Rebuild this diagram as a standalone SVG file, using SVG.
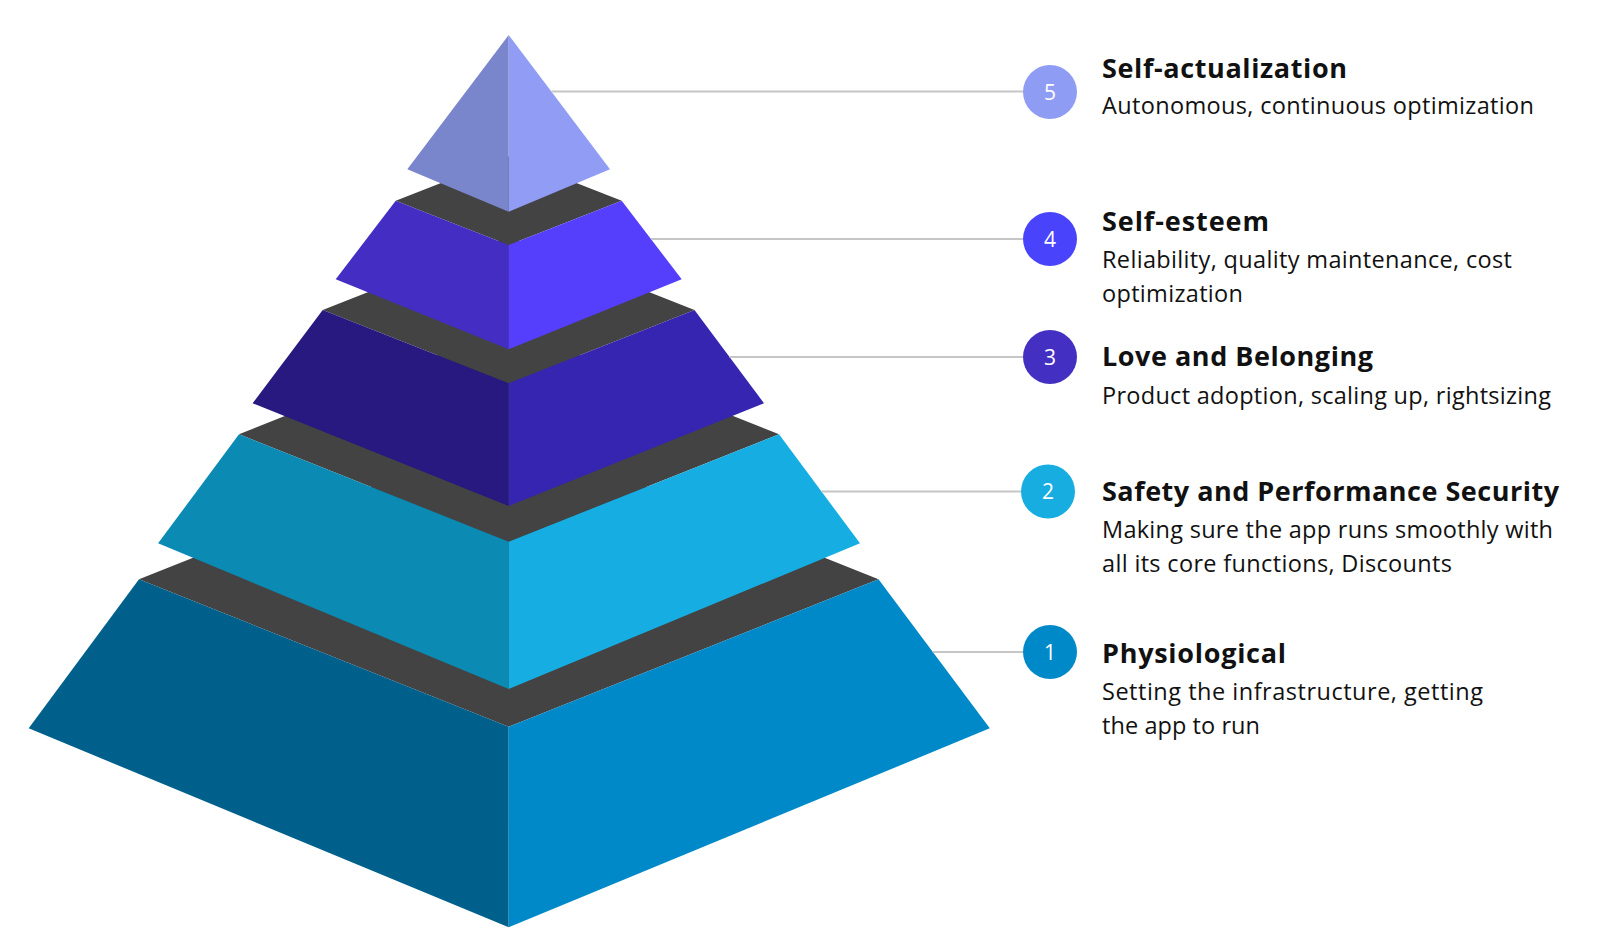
<svg xmlns="http://www.w3.org/2000/svg" width="1600" height="948" viewBox="0 0 1600 948">
<style>
.top{fill:#434343}
.conn{stroke:#c6c6c6;stroke-width:1.8;fill:none}
.num{font-family:"Open Sans","Liberation Sans",sans-serif;font-size:21px;fill:#ffffff;text-anchor:middle}
.title{font-family:"Open Sans","Liberation Sans",sans-serif;font-size:27px;font-weight:700;fill:#111111}
.sub{font-family:"Open Sans","Liberation Sans",sans-serif;font-size:23.5px;fill:#111111}
</style>
<rect width="1600" height="948" fill="#ffffff"/>
<g id="tier1">
<polygon class="top" points="139,579.3 508.7,431.9 878.5,579.3 508.7,726.7"/>
<polygon fill="#00608c" points="139,579.3 508.7,726.7 508.7,927.3 28.7,728.3"/>
<polygon fill="#0089c9" points="508.7,726.7 878.5,579.3 989.8,728.3 508.7,927.3"/>
</g>
<g id="tier2">
<polygon class="top" points="239,434.3 508.7,326.9 779,434.3 508.7,541.7"/>
<polygon fill="#0b8ab4" points="239,434.3 508.7,541.7 508.7,689 158.1,543.3"/>
<polygon fill="#16aee2" points="508.7,541.7 779,434.3 860,543.3 508.7,689"/>
</g>
<g id="tier3">
<polygon class="top" points="322.7,310 508.7,236.7 694.5,310 508.7,383.3"/>
<polygon fill="#27197f" points="322.7,310 508.7,383.3 508.7,506 252.6,403.3"/>
<polygon fill="#3625b0" points="508.7,383.3 694.5,310 764,403.3 508.7,506"/>
</g>
<g id="tier4">
<polygon class="top" points="395.7,200.7 508.7,156.4 621.7,200.7 508.7,245"/>
<polygon fill="#432dc3" points="395.7,200.7 508.7,245 508.7,349.3 335.7,279.3"/>
<polygon fill="#563ffc" points="508.7,245 621.7,200.7 681.7,279.3 508.7,349.3"/>
</g>
<g id="tier5">
<polygon fill="#7a86cc" points="508.7,35 407.3,169.3 508.7,211.7"/>
<polygon fill="#919df5" points="508.7,35 508.7,211.7 610,169.3"/>
</g>
<g id="connectors">
<line class="conn" x1="551.3" y1="91.5" x2="1023" y2="91.5"/>
<line class="conn" x1="650.9" y1="239" x2="1023" y2="239"/>
<line class="conn" x1="729.5" y1="357" x2="1023" y2="357"/>
<line class="conn" x1="821.5" y1="491.5" x2="1021" y2="491.5"/>
<line class="conn" x1="932.8" y1="652" x2="1023" y2="652"/>
</g>
<g id="level5">
<circle cx="1050" cy="92" r="27" fill="#8f9cf4"/>
<text class="num" x="1050" y="99.5">5</text>
<text class="title" x="1102" y="77.5" textLength="245" lengthAdjust="spacing">Self-actualization</text>
<text class="sub" x="1102" y="114" textLength="432" lengthAdjust="spacing">Autonomous, continuous optimization</text>
</g>
<g id="level4">
<circle cx="1050" cy="239" r="27" fill="#4944fc"/>
<text class="num" x="1050" y="246.5">4</text>
<text class="title" x="1102" y="230.5" textLength="167" lengthAdjust="spacing">Self-esteem</text>
<text class="sub" x="1102" y="268" textLength="410" lengthAdjust="spacing">Reliability, quality maintenance, cost</text>
<text class="sub" x="1102" y="301.5" textLength="141" lengthAdjust="spacing">optimization</text>
</g>
<g id="level3">
<circle cx="1050" cy="357" r="27" fill="#4330c2"/>
<text class="num" x="1050" y="364.5">3</text>
<text class="title" x="1102" y="366" textLength="271" lengthAdjust="spacing">Love and Belonging</text>
<text class="sub" x="1102" y="403.5" textLength="449" lengthAdjust="spacing">Product adoption, scaling up, rightsizing</text>
</g>
<g id="level2">
<circle cx="1048" cy="491.5" r="27" fill="#17ade1"/>
<text class="num" x="1048" y="499">2</text>
<text class="title" x="1102" y="500.5" textLength="457" lengthAdjust="spacing">Safety and Performance Security</text>
<text class="sub" x="1102" y="538" textLength="451" lengthAdjust="spacing">Making sure the app runs smoothly with</text>
<text class="sub" x="1102" y="571.5" textLength="350" lengthAdjust="spacing">all its core functions, Discounts</text>
</g>
<g id="level1">
<circle cx="1050" cy="652" r="27" fill="#0089c9"/>
<text class="num" x="1050" y="659.5">1</text>
<text class="title" x="1102" y="663" textLength="184" lengthAdjust="spacing">Physiological</text>
<text class="sub" x="1102" y="700" textLength="381" lengthAdjust="spacing">Setting the infrastructure, getting</text>
<text class="sub" x="1102" y="734" textLength="158" lengthAdjust="spacing">the app to run</text>
</g>
</svg>
